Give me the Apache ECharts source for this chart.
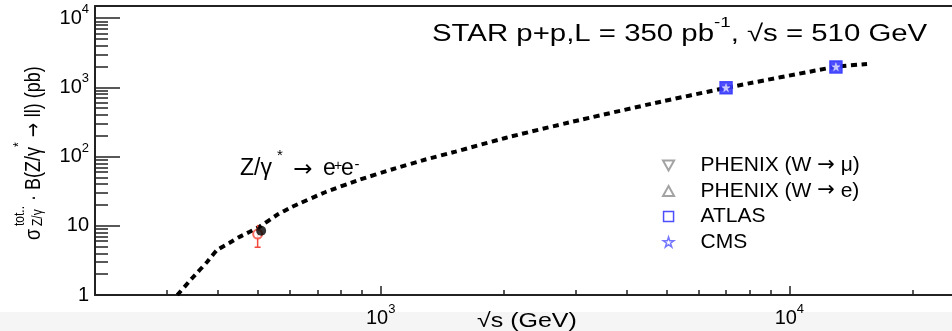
<!DOCTYPE html>
<html>
<head>
<meta charset="utf-8">
<script src="https://cdn.jsdelivr.net/npm/echarts@6/dist/echarts.min.js"></script>
<style>
  html, body { margin: 0; padding: 0; background: #fff; }
  #chart { width: 952px; height: 331px; background: linear-gradient(to bottom, #fff 0, #fff 312px, #f5f5f5 312px); }
</style>
</head>
<body>
<div id="chart"></div>
<script>
// theory curve, sqrt(s) in GeV vs cross section in pb
const curveX = [318, 346, 376, 398, 426, 451, 477, 504, 557, 606, 734, 884, 1064, 1288, 1524, 2018, 2923, 4690, 6980, 12940, 15490];
const curveY = [1.0, 1.76, 3.0, 4.47, 5.64, 6.89, 8.13, 9.6, 14.3, 18.7, 30.8, 45.9, 65.1, 90.8, 117.8, 186, 316, 595, 980, 1972, 2178];

const starProjX = [510];
const starProjY = [8.5];

const starMeasX = [500];
const starMeasY = [7.6];
const starMeasLo = [4.9];
const starMeasHi = [10.3];

const atlasX = [7000, 13000];
const atlasY = [985, 1975];
const cmsX = [7000, 13000];
const cmsY = [990, 1985];

const xMajor = [1000, 10000];
const xMinor = [300, 400, 500, 600, 700, 800, 900, 2000, 3000, 4000, 5000, 6000, 7000, 8000, 9000, 20000];
const yMajor = [1, 10, 100, 1000, 10000];
const yMinor = [2, 3, 4, 5, 6, 7, 8, 9, 20, 30, 40, 50, 60, 70, 80, 90, 200, 300, 400, 500, 600, 700, 800, 900, 2000, 3000, 4000, 5000, 6000, 7000, 8000, 9000];

const legendNames = ['PHENIX (W → μ)', 'PHENIX (W → e)', 'ATLAS', 'CMS'];

const font = 'Liberation Sans, Arial, Helvetica, sans-serif';
const arrowFont = 'DejaVu Sans, sans-serif';
const red = '#f2473a';
const blue = '#3a3cff';
const gray = '#8c8c8c';
const starPath = 'path://M50,0 L61,35 L98,35 L68,57 L79,91 L50,70 L21,91 L32,57 L2,35 L39,35 Z';
const zip = (a, b) => a.map((v, i) => [v, b[i]]);

const tickLabel = v => {
  if (v === 1) return '{b|1}';
  if (v === 10) return '{b|10}';
  return '{b|10}{s|' + Math.round(Math.log10(v)) + '}';
};
const tickRich = {
  b: { fontSize: 20, fontFamily: font, color: '#000', lineHeight: 30, verticalAlign: 'middle' },
  s: { fontSize: 13, fontFamily: font, color: '#000', verticalAlign: 'top' }
};

const txt = (text, x, y, size, extra) => Object.assign({
  type: 'text', x: x, y: y,
  style: { text: text, fontSize: size, fontFamily: font, fill: '#000', verticalAlign: 'middle' }
}, extra || {});

const chart = echarts.init(document.getElementById('chart'));
chart.setOption({
  animation: false,
  grid: { left: 95, top: 6, width: 860, height: 289 },
  legend: {
    orient: 'vertical', left: 657, top: 150,
    itemWidth: 54, itemHeight: 10, itemGap: 4.5,
    textStyle: {
      fontSize: 21, fontFamily: font, color: '#000', lineHeight: 20,
      rich: {
        t: { fontSize: 21, fontFamily: font, color: '#000' },
        a: { fontSize: 21, fontFamily: arrowFont, color: '#000' }
      }
    },
    formatter: name => name.split('→').map(p => '{t|' + p + '}').join('{a|→}'),
    data: [
      { name: legendNames[0] },
      { name: legendNames[1] },
      { name: legendNames[2], icon: 'path://M0,0 L10,0 L10,10 L0,10 Z', itemStyle: { color: '#fff', borderColor: blue, borderWidth: 1.5 } },
      { name: legendNames[3], itemStyle: { color: '#fff', borderColor: blue, borderWidth: 1.5 } }
    ]
  },
  xAxis: [
    {
      type: 'log', min: 200, max: 25000,
      axisLine: { lineStyle: { color: '#222', width: 2 } },
      axisTick: { inside: true, length: 9, customValues: xMajor, lineStyle: { color: '#222', width: 1.5 } },
      axisLabel: { customValues: xMajor, margin: 8, formatter: tickLabel, rich: tickRich },
      splitLine: { show: false }
    },
    {
      type: 'log', min: 200, max: 25000, position: 'bottom',
      axisLine: { show: false },
      axisTick: { inside: true, length: 5, customValues: xMinor, lineStyle: { color: '#222', width: 1.5 } },
      axisLabel: { show: false },
      splitLine: { show: false }
    },
    {
      type: 'log', min: 200, max: 25000, position: 'top',
      axisLine: { lineStyle: { color: '#222', width: 2 } },
      axisTick: { show: false }, axisLabel: { show: false }, splitLine: { show: false }
    }
  ],
  yAxis: [
    {
      type: 'log', min: 1, max: 15000,
      axisLine: { lineStyle: { color: '#222', width: 2 } },
      axisTick: { inside: true, length: 25, customValues: yMajor, lineStyle: { color: '#222', width: 1.5 } },
      axisLabel: { customValues: yMajor, margin: 6, formatter: tickLabel, rich: tickRich },
      splitLine: { show: false }
    },
    {
      type: 'log', min: 1, max: 15000, position: 'left',
      axisLine: { show: false },
      axisTick: { inside: true, length: 13, customValues: yMinor, lineStyle: { color: '#222', width: 1.5 } },
      axisLabel: { show: false },
      splitLine: { show: false }
    }
  ],
  series: [
    {
      name: 'theory', type: 'line', data: zip(curveX, curveY), showSymbol: false, smooth: 0.15,
      lineStyle: { color: '#000', width: 4, type: [6, 4.5] }, z: 2
    },
    {
      name: 'err', type: 'custom', data: starMeasX.map((x, i) => [x, starMeasLo[i], starMeasHi[i]]),
      encode: { x: 0, y: [1, 2] }, z: 3,
      renderItem: (params, api) => {
        const lo = api.coord([api.value(0), api.value(1)]);
        const hi = api.coord([api.value(0), api.value(2)]);
        return {
          type: 'group', children: [
            { type: 'line', shape: { x1: lo[0], y1: lo[1], x2: hi[0], y2: hi[1] }, style: { stroke: red, lineWidth: 1.5 } },
            { type: 'line', shape: { x1: lo[0] - 3, y1: lo[1], x2: lo[0] + 3, y2: lo[1] }, style: { stroke: red, lineWidth: 1.5 } }
          ]
        };
      }
    },
    {
      name: 'STAR', type: 'scatter', data: zip(starMeasX, starMeasY), symbol: 'emptyCircle', symbolSize: 9,
      itemStyle: { color: red, borderWidth: 1.5 }, z: 4
    },
    {
      name: 'STAR proj', type: 'scatter', data: zip(starProjX, starProjY), symbol: 'circle', symbolSize: 10,
      itemStyle: { color: '#000' }, z: 5
    },
    {
      name: legendNames[0], type: 'scatter', data: [], symbol: 'path://M0,0 L10,0 L5,9 Z', symbolSize: 10,
      itemStyle: { color: '#fff', borderColor: gray, borderWidth: 1.2 }
    },
    {
      name: legendNames[1], type: 'scatter', data: [], symbol: 'path://M5,0 L10,9 L0,9 Z', symbolSize: 10,
      itemStyle: { color: '#fff', borderColor: gray, borderWidth: 1.2 }
    },
    {
      name: legendNames[2], type: 'scatter', data: zip(atlasX, atlasY), symbol: 'rect', symbolSize: 12,
      itemStyle: { color: blue, borderColor: blue, borderWidth: 1.5, opacity: 0.9 }, z: 6
    },
    {
      name: legendNames[3], type: 'scatter', data: zip(cmsX, cmsY), symbol: starPath, symbolSize: 8,
      itemStyle: { color: '#fff', borderColor: '#fff', borderWidth: 0.5, opacity: 0.7 }, z: 7
    }
  ],
  graphic: [
    {
      type: 'text', x: 432, y: 35, scaleX: 1.25,
      style: {
        text: '{m|STAR p+p,L = 350 pb}{s|-1}{m|, √s = 510 GeV}',
        verticalAlign: 'middle',
        rich: {
          m: { fontSize: 23.5, fontFamily: font, fill: '#000', lineHeight: 40, verticalAlign: 'middle' },
          s: { fontSize: 15, fontFamily: font, fill: '#000', verticalAlign: 'top' }
        }
      }
    },
    txt('Z/γ', 240, 169, 23),
    txt('*', 280, 156, 15, { style: { text: '*', fontSize: 15, fontFamily: font, fill: '#000', verticalAlign: 'middle', align: 'center' } }),
    { type: 'text', x: 303, y: 170, style: { text: '→', fontSize: 23, fontFamily: arrowFont, fill: '#000', verticalAlign: 'middle', align: 'center' } },
    txt('e', 323, 169, 23),
    { type: 'text', x: 338, y: 166, style: { text: '+', fontSize: 14, fontFamily: font, fill: '#000', verticalAlign: 'middle', align: 'center' } },
    txt('e', 341, 169, 23),
    { type: 'text', x: 357, y: 165, style: { text: '-', fontSize: 15, fontFamily: font, fill: '#000', verticalAlign: 'middle', align: 'center' } },
    {
      type: 'text', x: 477, y: 311, scaleX: 1.25,
      style: { text: '√s (GeV)', fontSize: 20, fontFamily: font, fill: '#000', verticalAlign: 'top' }
    },
    {
      type: 'group', x: 42, y: 248, scaleX: 1.25,
      children: [{
        type: 'group', rotation: Math.PI / 2,
        children: [
          txt('σ', 8, -6.3, 18),
          txt('tot..', 22, -17.5, 12),
          txt('Z/γ', 22, -3, 12),
          {
            type: 'text', x: 47, y: -6.3,
            style: {
              text: '{m|· B(Z/γ}{s|*}{a| → }{m|ll) (pb)}',
              verticalAlign: 'middle',
              rich: {
                m: { fontSize: 18, fontFamily: font, fill: '#000', lineHeight: 36, verticalAlign: 'middle' },
                s: { fontSize: 12, fontFamily: font, fill: '#000', verticalAlign: 'top' },
                a: { fontSize: 17, fontFamily: arrowFont, fill: '#000' }
              }
            }
          }
        ]
      }]
    }
  ]
});
</script>
</body>
</html>
